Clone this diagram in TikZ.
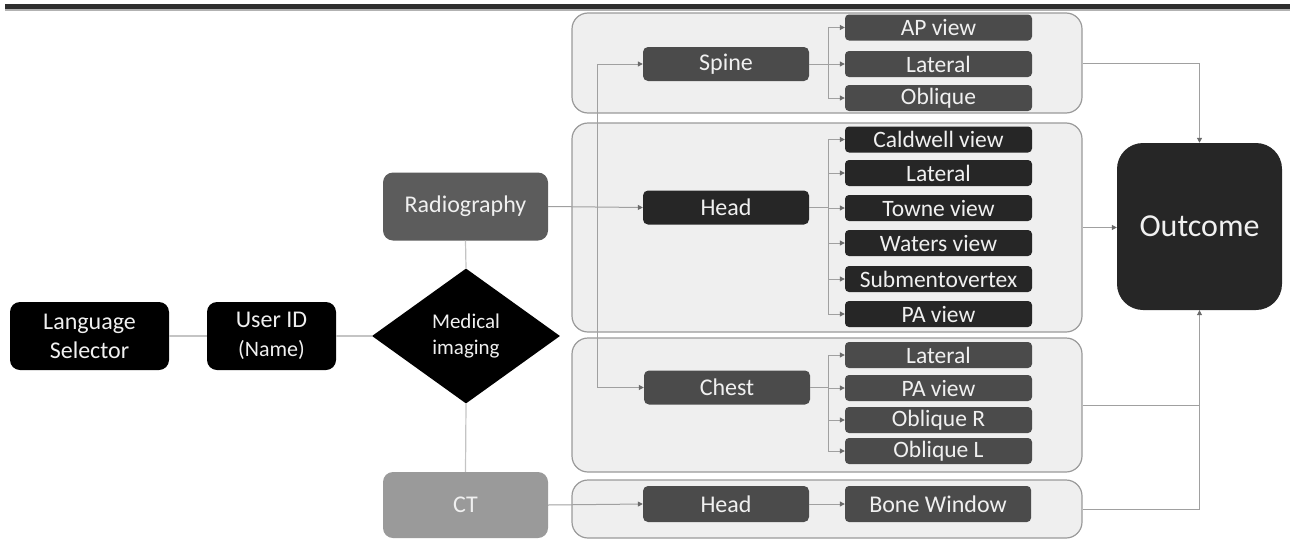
\documentclass[tikz,border=0pt]{standalone}
\usepackage{fontspec}
\setmainfont{Carlito}
\usetikzlibrary{shapes.geometric,arrows.meta}
\definecolor{barc}{HTML}{2E2E2E}
\definecolor{grpfill}{HTML}{EFEFEF}
\definecolor{grpline}{HTML}{9A9A9A}
\definecolor{linec}{HTML}{A0A0A0}
\definecolor{lightline}{HTML}{C4C4C4}
\definecolor{tipc}{HTML}{6A6A6A}
\definecolor{darkn}{HTML}{262626}
\definecolor{midn}{HTML}{4B4B4B}
\definecolor{radn}{HTML}{5C5C5C}
\definecolor{ctn}{HTML}{9A9A9A}
\definecolor{txt}{HTML}{F0F0F0}
\newcommand{\fsz}[2]{\fontsize{#1}{#2}\selectfont}
\tikzset{
  grp/.style={draw=grpline, fill=grpfill, line width=1.2pt, rounded corners=16pt, minimum width=510pt, inner sep=0pt},
  subn/.style={rounded corners=4pt, minimum width=187pt, minimum height=26pt, inner sep=0pt, text=txt, font=\fsz{23.5}{26}},
  midn/.style={rounded corners=5pt, minimum width=166pt, minimum height=34pt, inner sep=0pt, text=txt, font=\fsz{24}{26}},
  bign/.style={rounded corners=10pt, inner sep=0pt, text=txt, font=\fsz{24}{29}, align=center},
  arr/.style={draw=linec, line width=1pt, -{Triangle[length=5pt,width=5pt,color=tipc]}},
  plain/.style={draw=linec, line width=1pt},
  lite/.style={draw=lightline, line width=1.2pt},
}
\begin{document}
\begin{tikzpicture}[x=1pt,y=-1pt]
\useasboundingbox (0,0) rectangle (1290,541);
\fill[barc] (5,4) rectangle (1290,9);
\fill[gray!60] (5,9) rectangle (1290,10.5);

% groups
\node[grp, minimum height=100pt] (gs) at (827,63) {};
\node[grp, minimum height=209pt] (gh) at (827,227.5) {};
\node[grp, minimum height=134pt] (gc) at (827,405) {};
\node[grp, minimum height=58pt] (gt) at (827,509) {};

% left nodes
\node[bign, fill=black, minimum width=159pt, minimum height=68pt] (lang) at (89.5,336) {Language\\Selector};
\node[bign, fill=black, minimum width=129pt, minimum height=68pt] (user) at (271.5,336) {User ID\\{\fsz{22}{29}(Name)}};
\node[diamond, fill=black, minimum width=188pt, minimum height=135pt, inner sep=0pt, text=txt, font=\fsz{21}{26}, align=center] (med) at (466,336) {Medical\\imaging};
\node[bign, fill=radn, minimum width=165pt, minimum height=68pt] (rad) at (465.5,206.5) {Radiography};
\node[bign, fill=ctn, minimum width=165pt, minimum height=66pt] (ct) at (465.5,505) {CT};
\node[rounded corners=26pt, fill=darkn, minimum width=165pt, minimum height=167pt, inner sep=0pt, text=txt, font=\fsz{32}{34}] (out) at (1199.5,226.5) {Outcome};

% spine
\node[midn, fill=midn] (spine) at (726,64) {Spine};
\node[subn, fill=midn] (s1) at (938.5,27.5) {AP view};
\node[subn, fill=midn] (s2) at (938.5,64) {Lateral};
\node[subn, fill=midn] (s3) at (938.5,98) {Oblique};

% head
\node[midn, fill=darkn] (head) at (726,207.5) {Head};
\node[subn, fill=darkn] (h1) at (938.5,139.5) {Caldwell view};
\node[subn, fill=darkn] (h2) at (938.5,173) {Lateral};
\node[subn, fill=darkn] (h3) at (938.5,208) {Towne view};
\node[subn, fill=darkn] (h4) at (938.5,243) {Waters view};
\node[subn, fill=darkn] (h5) at (938.5,279) {Submentovertex};
\node[subn, fill=darkn] (h6) at (938.5,314) {PA view};

% chest
\node[midn, fill=midn] (chest) at (727,387.5) {Chest};
\node[subn, fill=midn] (c1) at (938.5,355) {Lateral};
\node[subn, fill=midn] (c2) at (938.5,388) {PA view};
\node[subn, fill=midn] (c3) at (938.5,420) {Oblique R};
\node[subn, fill=midn] (c4) at (938.5,451) {Oblique L};

% CT row
\node[midn, fill=midn, minimum height=36pt] (cth) at (726,504) {Head};
\node[subn, fill=midn, minimum width=186pt, minimum height=36pt, font=\fsz{24}{26}] (bone) at (938,504) {Bone Window};

% left connectors
\draw[lite] (lang.east) -- (user.west);
\draw[lite] (user.east) -- (med.west);
\draw[lite] (med.north) -- (rad.south);
\draw[lite] (med.south) -- (ct.north);

% radiography connectors
\coordinate (jx) at (597,0);
\draw[arr] (rad.east) -- (head.west);
\draw[arr] (rad.east -| jx) |- (spine.west);
\draw[arr] (rad.east -| jx) |- (chest.west);
\draw[arr] (ct.east) -- (cth.west);
\draw[arr] (cth.east) -- (bone.west);

% branches
\coordinate (bx) at (828,0);
\draw[plain] (spine.east) -- (spine.east -| bx);
\foreach \n in {s1,s2,s3}{\draw[arr] (spine.east -| bx) |- (\n.west);}
\draw[plain] (head.east) -- (head.east -| bx);
\foreach \n in {h1,h2,h3,h4,h5,h6}{\draw[arr] (head.east -| bx) |- (\n.west);}
\draw[plain] (chest.east) -- (chest.east -| bx);
\foreach \n in {c1,c2,c3,c4}{\draw[arr] (chest.east -| bx) |- (\n.west);}

% to outcome
\draw[arr] (gs.east) -| (out.north);
\draw[arr] (gh.east) -- (gh.east -| out.west);
\draw[plain] (gc.east) -| (out.south);
\draw[arr] (gt.east) -| (out.south);
\end{tikzpicture}
\end{document}
